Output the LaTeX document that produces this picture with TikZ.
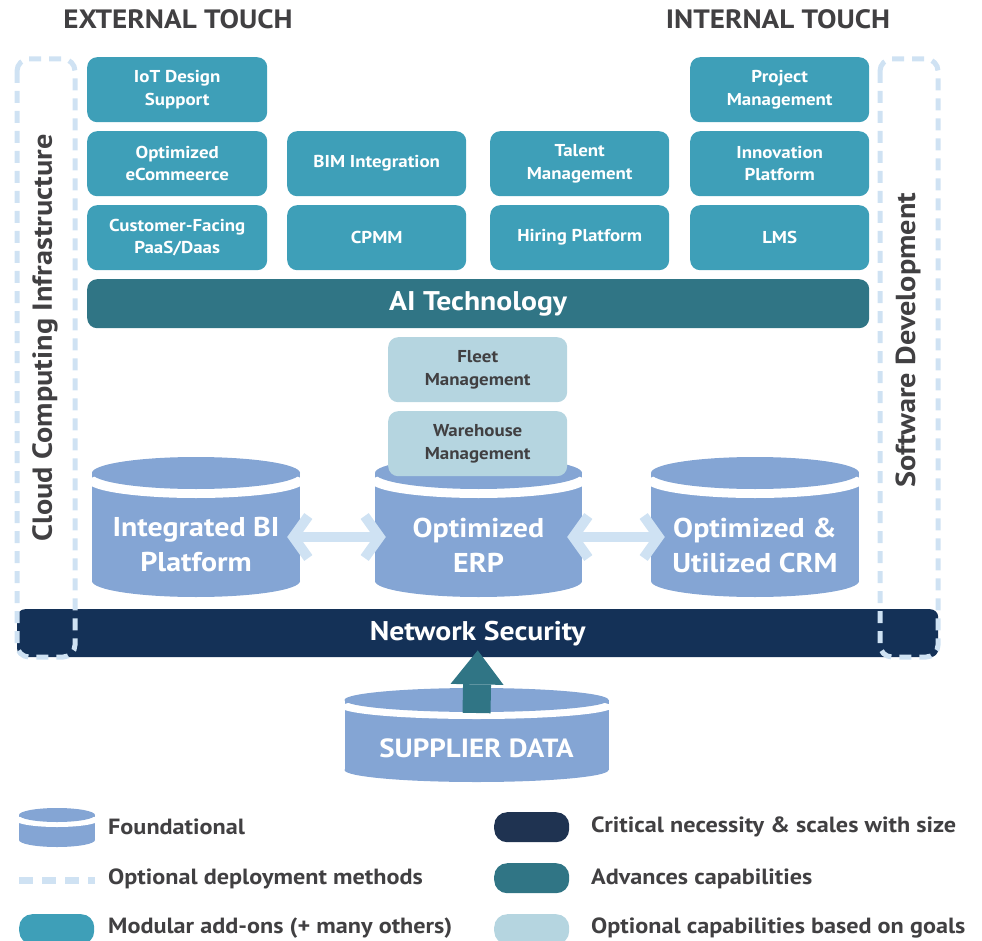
\documentclass[tikz,border=0pt]{standalone}
\usepackage{fontspec}
\setmainfont{PT Sans}[FakeStretch=1.1]
\usetikzlibrary{arrows.meta,calc}

\definecolor{modc}{HTML}{3E9FB8}
\definecolor{aic}{HTML}{307585}
\definecolor{netc}{HTML}{143157}
\definecolor{optc}{HTML}{B5D5E0}
\definecolor{cylc}{HTML}{84A5D4}
\definecolor{dashc}{HTML}{CFE2F3}
\definecolor{txtc}{HTML}{414042}
\definecolor{critc}{HTML}{1F3351}

% cylinder: centre x, top-ellipse y, bottom-ellipse y, x radius, y radius, gap
\newcommand\drawcyl[6]{%
  \fill[cylc] (#1-#4,#2) rectangle (#1+#4,#3);
  \fill[cylc] (#1,#3) ellipse[x radius=#4pt, y radius=#5pt];
  \fill[white] (#1,#2+#6) ellipse[x radius=#4pt+4pt, y radius=#5pt];
  \fill[cylc] (#1,#2) ellipse[x radius=#4pt, y radius=#5pt];
}

\tikzset{
  modbox/.style={fill=modc, rounded corners=10pt, minimum width=179pt,
    minimum height=65pt, text=white, anchor=north west, inner sep=0pt,
    align=center, font=\bfseries\fontsize{17.2}{22.5}\selectfont},
  optbox/.style={modbox, fill=optc, text=txtc},
  bar/.style={rounded corners=10pt, anchor=north west, inner sep=0pt,
    text=white, font=\bfseries\fontsize{27}{30}\selectfont},
  optdash/.style={draw=dashc, line width=5pt, dash pattern=on 12pt off 8pt,
    rounded corners=12pt},
  sidetxt/.style={rotate=90, text=txtc, font=\bfseries\fontsize{27.5}{30}\selectfont},
  headtxt/.style={text=txtc, font=\bfseries\fontsize{26.5}{30}\selectfont},
  cyltxt/.style={text=white, align=center, inner sep=0pt,
    font=\bfseries\fontsize{27.2}{35}\selectfont},
  dbl/.style={draw=dashc, line width=10pt,
    {Straight Barb[length=15pt,width=42pt]}-{Straight Barb[length=15pt,width=42pt]}},
  uparrow/.style={draw=aic, line width=28pt,
    -{Triangle[line width=0pt,length=34pt,width=53pt]}},
  legtxt/.style={anchor=west, text=txtc, inner sep=0pt,
    font=\bfseries\fontsize{22}{25}\selectfont},
  pill/.style={rounded corners=13pt, minimum width=75pt, minimum height=30pt,
    anchor=north west, inner sep=0pt},
}

\begin{document}
\begin{tikzpicture}[x=1pt,y=-1pt]
\useasboundingbox (0,0) rectangle (982,941);

% headings
\node[headtxt] (ext) at (178,19) {EXTERNAL TOUCH};
\node[headtxt] (int) at (778,19) {INTERNAL TOUCH};

% modular add-ons
\node[modbox, minimum width=180pt] (iot)  at (87,57)  {IoT Design\\Support};
\node[modbox, minimum width=180pt] (ecom) at (87,131) {Optimized\\eCommeerce};
\node[modbox, minimum width=180pt] (paas) at (87,205) {Customer-Facing\\PaaS/Daas};
\node[modbox] (bim)  at (287,131) {BIM Integration};
\node[modbox] (cpmm) at (287,205) {CPMM};
\node[modbox] (tal)  at (490,131) {Talent\\Management};
\node[modbox] (hire) at (490,205) {Hiring Platform};
\node[modbox] (pm)   at (690,57)  {Project\\Management};
\node[modbox] (inno) at (690,131) {Innovation\\Platform};
\node[modbox] (lms)  at (690,205) {LMS};

% AI layer
\node[bar, fill=aic, minimum width=782pt, minimum height=49pt] (ai) at (87,279) {AI Technology};

% foundational cylinders
\drawcyl{196}{473}{581}{104}{16}{9}
\drawcyl{478.5}{473}{581}{103.5}{16}{9}
\drawcyl{755}{473}{581}{104}{16}{9}
\node[cyltxt, minimum width=208pt] (bi)  at (196,545)   {Integrated BI\\Platform};
\node[cyltxt, minimum width=207pt] (erp) at (478.5,545) {Optimized\\ERP};
\node[cyltxt, minimum width=208pt] (crm) at (755,545)   {Optimized \&\\Utilized CRM};

% optional capabilities
\node[optbox] (fleet) at (388,337) {Fleet\\Management};
\node[optbox] (ware)  at (388,411) {Warehouse\\Management};

% integration arrows
\draw[dbl] ([shift={(-13,-8)}]bi.east) -- ([shift={(11,-8)}]erp.west);
\draw[dbl] ([shift={(-15,-8)}]erp.east) -- ([shift={(14,-8)}]crm.west);

% network security
\node[bar, fill=netc, rounded corners=8pt, minimum width=921pt, minimum height=48pt,
  font=\bfseries\fontsize{27}{30}\selectfont] (net) at (17,609) {Network Security};

% optional deployment frames
\draw[optdash] (17,59) rectangle (75,657);
\draw[optdash] (880,59) rectangle (938,657);
\node[sidetxt] (cloud) at (45,338) {Cloud Computing Infrastructure};
\node[sidetxt] (soft)  at (908,340) {Software Development};

% supplier data
\drawcyl{476.5}{700}{770}{132}{12}{7}
\node[cyltxt, font=\bfseries\fontsize{26.3}{30}\selectfont] (sup) at (476.5,748) {SUPPLIER DATA};
\draw[uparrow] ([yshift=35pt]sup.center) -- ([yshift=7pt]net.south);

% legend
\drawcyl{57}{815}{840}{38}{7}{5}
\node[legtxt] (lg1) at (108,827) {Foundational};
\draw[draw=dashc, line width=7pt, dash pattern=on 14pt off 9pt] (19,880) -- (95,880);
\node[legtxt] (lg2) at (108,879) {Optional deployment methods};
\node[pill, fill=modc] (p3) at (19,914) {};
\node[legtxt] (lg3) at (108,928) {Modular add-ons (+ many others)};
\node[pill, fill=critc] (p4) at (494,812) {};
\node[legtxt] (lg4) at (591,827) {Critical necessity \& scales with size};
\node[pill, fill=aic] (p5) at (494,863) {};
\node[legtxt] (lg5) at (591,879) {Advances capabilities};
\node[pill, fill=optc] (p6) at (494,914) {};
\node[legtxt] (lg6) at (591,928) {Optional capabilities based on goals};
\end{tikzpicture}
\end{document}
